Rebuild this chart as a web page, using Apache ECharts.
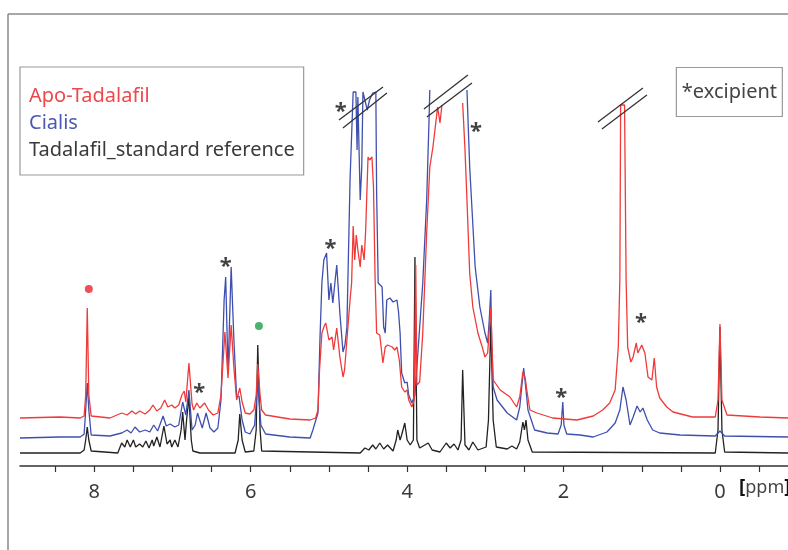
<!DOCTYPE html>
<html>
<head>
<meta charset="utf-8">
<script src="https://cdn.jsdelivr.net/npm/echarts@6/dist/echarts.min.js"></script>
<style>
  html, body { margin: 0; padding: 0; background: #fff; }
  #chart { width: 788px; height: 550px; }
</style>
</head>
<body>
<div id="chart"></div>
<script>
// 1H NMR overlay: [ppm, intensity (a.u., stacked)]
const apoTadalafil = [
  [8.95, 48], [8.44, 49], [8.18, 48], [8.13, 50], [8.11, 71], [8.09, 158], [8.07, 71], [8.04, 50],
  [7.80, 48], [7.65, 53], [7.58, 51], [7.52, 55], [7.47, 52], [7.42, 55], [7.35, 52], [7.29, 56],
  [7.25, 61], [7.20, 55], [7.15, 58], [7.10, 66], [7.06, 59], [7.01, 61], [6.97, 58], [6.92, 61],
  [6.88, 71], [6.85, 75], [6.83, 64], [6.79, 103], [6.75, 62], [6.73, 56], [6.69, 63], [6.65, 58],
  [6.59, 63], [6.54, 56], [6.48, 51], [6.42, 53], [6.38, 71], [6.33, 134], [6.29, 88], [6.25, 141],
  [6.215, 98], [6.18, 66], [6.14, 78], [6.11, 64], [6.07, 53], [6.01, 52], [5.96, 56], [5.93, 71],
  [5.91, 102], [5.88, 71], [5.86, 56], [5.81, 51], [5.50, 47], [5.24, 46], [5.17, 48], [5.14, 56],
  [5.12, 96], [5.09, 133], [5.06, 140], [5.04, 143], [5.00, 126], [4.96, 129], [4.94, 116], [4.90, 138],
  [4.86, 109], [4.82, 89], [4.80, 96], [4.77, 126], [4.73, 166], [4.71, 183], [4.69, 240], [4.67, 206],
  [4.65, 231], [4.63, 216], [4.60, 199], [4.58, 221], [4.55, 206], [4.53, 236], [4.50, 309], [4.48, 306],
  [4.45, 309], [4.43, 279], [4.41, 189], [4.39, 133], [4.35, 131], [4.31, 103], [4.28, 119], [4.25, 121],
  [4.19, 119], [4.16, 116], [4.13, 119], [4.10, 106], [4.07, 79], [4.03, 74], [4.00, 76], [3.98, 66],
  [3.94, 59], [3.91, 66], [3.89, 201], [3.875, 81], [3.84, 84], [3.80, 133], [3.75, 233], [3.71, 299],
  [3.67, 319], [3.645, 319], [3.61, 359], [3.58, 343], [3.555, 361], [3.4, null],
  [3.29, 363], [3.26, 316], [3.235, 266], [3.20, 193], [3.16, 159], [3.095, 133], [3.04, 119],
  [3.005, 109], [2.97, 113], [2.93, 159], [2.90, 86], [2.81, 76], [2.685, 69], [2.60, 59], [2.56, 69],
  [2.52, 94], [2.49, 88], [2.47, 76], [2.43, 56], [2.34, 53], [2.14, 48], [1.83, 46], [1.62, 50],
  [1.50, 56], [1.41, 63], [1.34, 76], [1.30, 119], [1.28, 186], [1.27, 361], [1.22, 361], [1.20, 186],
  [1.18, 119], [1.14, 104], [1.11, 109], [1.07, 123], [1.05, 113], [1.00, 121], [0.96, 113], [0.92, 89],
  [0.87, 86], [0.84, 108], [0.81, 79], [0.77, 68], [0.68, 59], [0.60, 54], [0.35, 49], [0.06, 49],
  [0.025, 66], [0, 142], [-0.025, 66], [-0.09, 51], [-0.51, 49], [-0.87, 48]
]

const cialis = [
  [8.95, 28], [8.44, 29], [8.18, 29], [8.13, 32], [8.11, 56], [8.09, 83], [8.07, 56], [8.04, 31],
  [7.80, 30], [7.65, 33], [7.58, 36], [7.53, 33], [7.48, 39], [7.42, 34], [7.35, 36], [7.29, 34],
  [7.24, 41], [7.19, 35], [7.12, 50], [7.08, 40], [7.03, 42], [6.97, 39], [6.92, 41], [6.87, 64],
  [6.83, 51], [6.79, 76], [6.75, 36], [6.71, 41], [6.68, 53], [6.62, 38], [6.57, 53], [6.52, 38],
  [6.47, 34], [6.42, 38], [6.38, 66], [6.34, 166], [6.32, 189], [6.29, 94], [6.25, 199], [6.215, 126],
  [6.18, 69], [6.15, 70], [6.11, 46], [6.07, 34], [6.01, 32], [5.95, 41], [5.91, 84], [5.87, 41],
  [5.81, 32], [5.50, 29], [5.24, 28], [5.205, 36], [5.14, 53], [5.115, 126], [5.09, 183], [5.065, 206],
  [5.03, 213], [5.00, 166], [4.975, 183], [4.95, 163], [4.92, 186], [4.90, 201], [4.86, 153], [4.82, 114],
  [4.795, 121], [4.77, 139], [4.73, 286], [4.69, 374], [4.655, 374], [4.64, 316], [4.63, 369], [4.60, 266],
  [4.58, 299], [4.565, 374], [4.54, 374], [4.51, 356], [4.48, 366], [4.44, 373], [4.40, 374], [4.39, 273],
  [4.37, 183], [4.32, 179], [4.30, 139], [4.28, 133], [4.26, 166], [4.22, 168], [4.18, 164], [4.13, 166],
  [4.11, 154], [4.09, 133], [4.07, 93], [4.03, 83], [4.00, 84], [3.98, 71], [3.94, 63], [3.90, 71],
  [3.86, 116], [3.80, 183], [3.75, 266], [3.72, 346], [3.71, 376], [3.4, null],
  [3.235, 376], [3.20, 299], [3.17, 256], [3.13, 199], [3.07, 159], [3.005, 133], [2.97, 123],
  [2.95, 146], [2.93, 176], [2.92, 126], [2.90, 79], [2.85, 66], [2.72, 53], [2.60, 46], [2.56, 59],
  [2.51, 98], [2.48, 76], [2.455, 56], [2.37, 36], [2.21, 33], [2.07, 32], [2.03, 41], [2.01, 64],
  [1.995, 41], [1.96, 32], [1.79, 31], [1.62, 29], [1.445, 34], [1.34, 43], [1.28, 56], [1.24, 79],
  [1.20, 66], [1.15, 41], [1.11, 49], [1.06, 60], [1.02, 54], [0.985, 58], [0.93, 46], [0.86, 36],
  [0.77, 33], [0.51, 31], [0.06, 30], [0, 35], [-0.06, 30], [-0.87, 29]
]

const tadalafilReference = [
  [8.95, 13], [8.18, 13], [8.13, 16], [8.11, 26], [8.09, 39], [8.07, 26], [8.04, 15], [7.70, 13],
  [7.65, 23], [7.61, 19], [7.58, 26], [7.54, 19], [7.50, 26], [7.47, 19], [7.42, 22], [7.38, 19],
  [7.34, 25], [7.30, 18], [7.26, 26], [7.24, 20], [7.20, 29], [7.16, 19], [7.11, 40], [7.07, 22],
  [7.03, 26], [7.01, 19], [6.97, 26], [6.93, 19], [6.89, 36], [6.87, 54], [6.84, 26], [6.82, 46],
  [6.79, 69], [6.76, 26], [6.74, 15], [6.65, 13], [6.20, 13], [6.16, 26], [6.14, 52], [6.11, 26],
  [6.07, 14], [5.96, 15], [5.93, 36], [5.91, 121], [5.88, 36], [5.86, 15], [4.60, 13], [4.54, 18],
  [4.49, 16], [4.44, 21], [4.40, 17], [4.35, 23], [4.30, 17], [4.25, 21], [4.18, 15], [4.14, 26],
  [4.12, 36], [4.09, 26], [4.07, 31], [4.03, 43], [4.00, 26], [3.96, 21], [3.92, 26], [3.90, 209],
  [3.875, 26], [3.84, 18], [3.73, 23], [3.68, 16], [3.58, 14], [3.50, 23], [3.45, 18], [3.40, 22],
  [3.35, 16], [3.31, 26], [3.29, 96], [3.26, 21], [3.21, 16], [3.16, 24], [3.095, 16], [2.99, 19],
  [2.96, 46], [2.93, 144], [2.90, 46], [2.86, 19], [2.72, 17], [2.66, 20], [2.60, 17], [2.56, 24],
  [2.52, 44], [2.50, 36], [2.48, 46], [2.455, 26], [2.40, 14], [0.06, 13], [0.025, 36], [0, 139],
  [-0.025, 36], [-0.06, 14], [-0.87, 13]
]

const ppmTicks = [8.5, 8, 7.5, 7, 6.5, 6, 5.5, 5, 4.5, 4, 3.5, 3, 2.5, 2, 1.5, 1, 0.5, 0, -0.5]
const ppmLabels = [8, 6, 4, 2, 0]

// excipient asterisks and the two assignment dots
const excipientMarks = [[6.66, 78], [6.32, 204], [4.98, 222], [4.85, 359], [3.12, 339], [2.03, 73], [1.01, 148]]
const redDot = [[8.07, 177]]
const greenDot = [[5.895, 140]]

// "//" axis breaks over the clipped peaks
const breakMarks = [
  [[4.872, 346], [4.309, 379]], [[4.821, 338], [4.258, 373]],
  [[3.785, 357], [3.223, 391]], [[3.747, 349], [3.171, 383]],
  [[1.560, 344], [0.985, 378]], [[1.509, 337], [0.934, 371]]
]

const FONT = 'Noto Sans'
const chart = echarts.init(document.getElementById('chart'))

chart.setOption({
  animation: false,
  backgroundColor: '#fff',
  textStyle: { fontFamily: FONT },
  title: {
    text: '*excipient',
    right: 5,
    top: 67,
    padding: [15, 6, 15, 6],
    borderColor: '#9a9a9a',
    borderWidth: 1.2,
    textStyle: { fontFamily: FONT, fontSize: 20, fontWeight: 'normal', color: '#444' }
  },
  legend: {
    orient: 'vertical',
    left: 20,
    top: 67,
    padding: [19, 9, 15, 3],
    itemGap: 7,
    itemWidth: 0,
    itemHeight: 0,
    borderColor: '#9a9a9a',
    borderWidth: 1.2,
    selectedMode: false,
    textStyle: { fontFamily: FONT, fontSize: 20 },
    data: [
      { name: 'Apo-Tadalafil', textStyle: { color: '#f0474b' } },
      { name: 'Cialis', textStyle: { color: '#4a5ab4' } },
      { name: 'Tadalafil_standard reference', textStyle: { color: '#3a3a3a' } }
    ]
  },
  grid: { left: 20, right: 0, top: 14, bottom: 84, outerBoundsMode: 'none' },
  xAxis: {
    type: 'value',
    inverse: true,
    min: -0.87,
    max: 8.95,
    axisLine: { lineStyle: { color: '#333', width: 1.5 } },
    axisTick: { length: 6, customValues: ppmTicks, lineStyle: { color: '#333', width: 1.2 } },
    axisLabel: { customValues: ppmLabels, margin: 16, fontSize: 20, color: '#3a3a3a', fontFamily: FONT },
    splitLine: { show: false }
  },
  yAxis: { type: 'value', min: 0, max: 452, show: false },
  graphic: [
    { type: 'line', shape: { x1: 8, y1: 14, x2: 788, y2: 14 }, style: { stroke: '#8a8a8a', lineWidth: 1.5 } },
    { type: 'line', shape: { x1: 8, y1: 14, x2: 8, y2: 550 }, style: { stroke: '#8a8a8a', lineWidth: 1.5 } },
    {
      type: 'text',
      left: 739,
      top: 478,
      style: {
        text: '{b|[}{p|ppm}{b|]}',
        rich: {
          b: { fontFamily: FONT, fontSize: 19, fontWeight: 'bold', fill: '#111' },
          p: { fontFamily: FONT, fontSize: 18, fill: '#444' }
        }
      }
    }
  ],
  series: [
    {
      name: 'Tadalafil_standard reference',
      type: 'line',
      data: tadalafilReference,
      showSymbol: false,
      symbol: 'none',
      lineStyle: { color: '#222', width: 1.3 },
      itemStyle: { color: '#222' }
    },
    {
      name: 'Cialis',
      type: 'line',
      data: cialis,
      showSymbol: false,
      symbol: 'none',
      connectNulls: false,
      lineStyle: { color: '#3f4fae', width: 1.3 },
      itemStyle: { color: '#3f4fae' }
    },
    {
      name: 'Apo-Tadalafil',
      type: 'line',
      data: apoTadalafil,
      showSymbol: false,
      symbol: 'none',
      connectNulls: false,
      lineStyle: { color: '#f03a3a', width: 1.3 },
      itemStyle: { color: '#f03a3a' }
    },
    {
      name: 'excipient',
      type: 'scatter',
      data: excipientMarks,
      symbolSize: 0,
      silent: true,
      label: {
        show: true,
        position: 'inside',
        formatter: '*',
        fontSize: 22,
        fontWeight: 'bold',
        color: '#111',
        offset: [0, 5]
      },
      markLine: {
        silent: true,
        symbol: ['none', 'none'],
        label: { show: false },
        lineStyle: { type: 'solid', color: '#333', width: 1.3 },
        data: breakMarks.map(b => [{ coord: b[0] }, { coord: b[1] }])
      }
    },
    {
      name: 'dotRed',
      type: 'scatter',
      data: redDot,
      symbolSize: 8,
      silent: true,
      itemStyle: { color: '#e8262c' }
    },
    {
      name: 'dotGreen',
      type: 'scatter',
      data: greenDot,
      symbolSize: 8,
      silent: true,
      itemStyle: { color: '#1ea04a' }
    }
  ]
})
</script>
</body>
</html>
